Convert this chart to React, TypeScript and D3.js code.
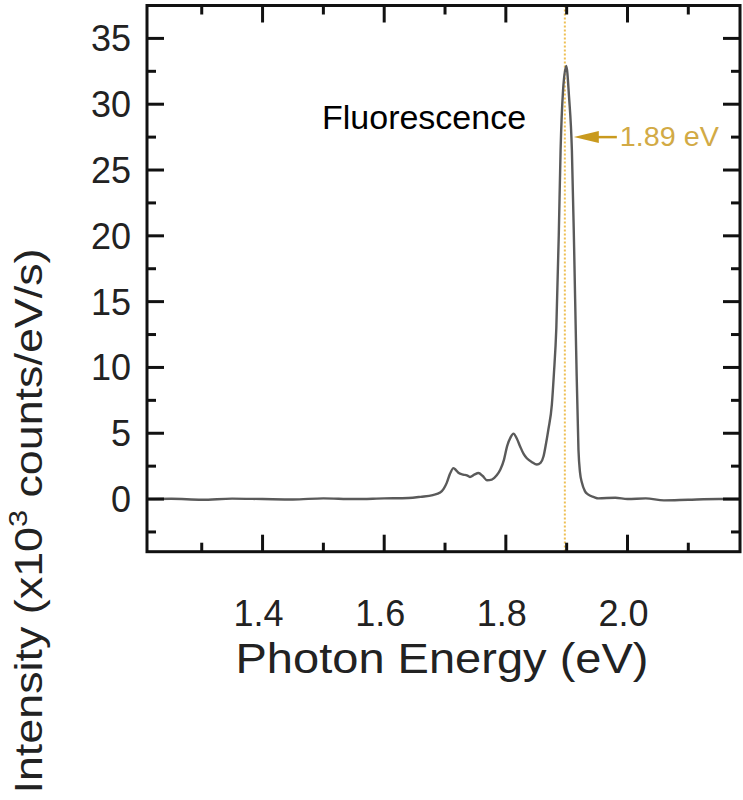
import React from "react";
import * as d3 from "d3";

// ---- data ----
const energy = [
  1.21, 1.25, 1.3, 1.35, 1.4, 1.45, 1.5, 1.55, 1.6, 1.64, 1.66, 1.68, 1.692, 1.698, 1.703, 1.708,
  1.714, 1.718, 1.722, 1.73, 1.736, 1.741, 1.748, 1.755, 1.762, 1.769, 1.777, 1.785, 1.791, 1.797,
  1.802, 1.808, 1.8125, 1.818, 1.8235, 1.829, 1.8345, 1.843, 1.851, 1.857, 1.862, 1.866, 1.87,
  1.8757, 1.879, 1.883, 1.887, 1.89, 1.894, 1.8993, 1.904, 1.9086, 1.9123, 1.9156, 1.9194, 1.922,
  1.925, 1.93, 1.935, 1.945, 1.952, 1.98, 2.0, 2.03, 2.06, 2.1, 2.15, 2.185,
];
const intensity = [
  0.0, 0.02, -0.05, 0.03, 0.0, -0.03, 0.05, 0.0, 0.05, 0.08, 0.17, 0.3, 0.5, 0.8, 1.25, 1.9,
  2.35, 2.2, 2.0, 1.86, 1.8, 1.68, 1.85, 1.98, 1.75, 1.43, 1.48, 1.8, 2.24, 3.0,
  4.0, 4.7, 4.97, 4.6, 4.0, 3.45, 3.1, 2.8, 2.62, 2.75, 3.25, 4.2, 5.3,
  7.2, 9.5, 13.0, 20.0, 26.5, 31.0, 32.9, 30.5, 26.5, 19.0, 11.3, 3.75, 2.0,
  1.25, 0.6, 0.35, 0.15, 0.05, 0.1, 0.0, 0.05, -0.1, -0.05, 0.0, 0.0,
];
const xMajorTicks = [1.4, 1.6, 1.8, 2.0];
const xMinorTicks = [1.3, 1.5, 1.7, 1.9, 2.1];
const yMajorTicks = [0, 5, 10, 15, 20, 25, 30, 35];
const yMinorTicks = [-2.5, 2.5, 7.5, 12.5, 17.5, 22.5, 27.5, 32.5];
const peakEnergy = 1.897;
const peakLabel = "1.89 eV";
const peakLabelValue = 27.5;
const xDomain = [1.21, 2.185];
const yDomain = [-4, 37.5];

const W = 743;
const H = 800;
const left = 147;
const right = 740;
const top = 5.5;
const bottom = 551.7;
const font = "'Liberation Sans', Arial, Helvetica, sans-serif";

export default function App() {
  const x = d3.scaleLinear().domain(xDomain).range([left, right]);
  const y = d3.scaleLinear().domain(yDomain).range([bottom, top]);
  const pts = energy.map((e, i) => [e, intensity[i]] as [number, number]);
  const line = d3
    .line<[number, number]>()
    .x((d) => x(d[0]))
    .y((d) => y(d[1]))
    .curve(d3.curveMonotoneX);

  const majorLen = 17;
  const minorLen = 9;
  const tickStyle = { stroke: "#111", strokeWidth: 3 };

  const ay = y(peakLabelValue);
  const ax = x(peakEnergy) + 10;

  return (
    <svg
      width={W}
      height={H}
      style={{ position: "absolute", left: 0, top: 0, background: "#fff" }}
    >
      <rect x={0} y={0} width={W} height={H} fill="#fff" />
      {/* dotted marker line */}
      <line
        x1={x(peakEnergy)}
        x2={x(peakEnergy)}
        y1={top}
        y2={bottom}
        stroke="#eebf55"
        strokeWidth={2}
        strokeDasharray="2 2"
      />
      {/* spectrum */}
      <path d={line(pts) || ""} fill="none" stroke="#5a5a5a" strokeWidth={2.4} strokeLinejoin="round" />

      {/* ticks */}
      {xMajorTicks.map((t) => (
        <g key={"xM" + t}>
          <line x1={x(t)} x2={x(t)} y1={bottom} y2={bottom - majorLen} {...tickStyle} />
          <line x1={x(t)} x2={x(t)} y1={top} y2={top + majorLen} {...tickStyle} />
        </g>
      ))}
      {xMinorTicks.map((t) => (
        <g key={"xm" + t}>
          <line x1={x(t)} x2={x(t)} y1={bottom} y2={bottom - minorLen} {...tickStyle} />
          <line x1={x(t)} x2={x(t)} y1={top} y2={top + minorLen} {...tickStyle} />
        </g>
      ))}
      {yMajorTicks.map((t) => (
        <g key={"yM" + t}>
          <line x1={left} x2={left + majorLen} y1={y(t)} y2={y(t)} {...tickStyle} />
          <line x1={right} x2={right - majorLen} y1={y(t)} y2={y(t)} {...tickStyle} />
        </g>
      ))}
      {yMinorTicks.map((t) => (
        <g key={"ym" + t}>
          <line x1={left} x2={left + minorLen} y1={y(t)} y2={y(t)} {...tickStyle} />
          <line x1={right} x2={right - minorLen} y1={y(t)} y2={y(t)} {...tickStyle} />
        </g>
      ))}

      {/* frame */}
      <rect
        x={left}
        y={top}
        width={right - left}
        height={bottom - top}
        fill="none"
        stroke="#111"
        strokeWidth={3}
      />

      {/* y tick labels */}
      {yMajorTicks.map((t) => (
        <text
          key={"yl" + t}
          x={131}
          y={y(t) + 13}
          textAnchor="end"
          fontFamily={font}
          fontSize={36}
          fill="#222"
        >
          {t}
        </text>
      ))}
      {/* x tick labels */}
      {xMajorTicks.map((t) => (
        <text
          key={"xl" + t}
          x={x(t) - 4}
          y={626}
          textAnchor="middle"
          fontFamily={font}
          fontSize={36}
          fill="#222"
        >
          {t.toFixed(1)}
        </text>
      ))}

      {/* axis titles */}
      <text
        x={442}
        y={673}
        textAnchor="middle"
        fontFamily={font}
        fontSize={42}
        fill="#222"
        textLength={413}
        lengthAdjust="spacingAndGlyphs"
      >
        Photon Energy (eV)
      </text>
      <text
        transform={`translate(42, 521) rotate(-90)`}
        textAnchor="middle"
        fontFamily={font}
        fontSize={38}
        fill="#222"
        textLength={545}
        lengthAdjust="spacingAndGlyphs"
      >
        Intensity (x10
        <tspan fontSize={26} dy={-15}>
          3
        </tspan>
        <tspan dy={15}> counts/eV/s)</tspan>
      </text>

      {/* annotations */}
      <text x={322} y={129} fontFamily={font} fontSize={34} fill="#000">
        Fluorescence
      </text>
      <path
        d={`M${ax - 1},${ay} L${ax + 24},${ay - 6} L${ax + 24},${ay + 6} Z`}
        fill="#c99a1e"
      />
      <line x1={ax + 20} x2={ax + 42} y1={ay} y2={ay} stroke="#c99a1e" strokeWidth={2.5} />
      <text
        x={ax + 45}
        y={ay + 9}
        fontFamily={font}
        fontSize={27}
        fill="#d2aa45"
        textLength={99}
        lengthAdjust="spacingAndGlyphs"
      >
        {peakLabel}
      </text>
    </svg>
  );
}
